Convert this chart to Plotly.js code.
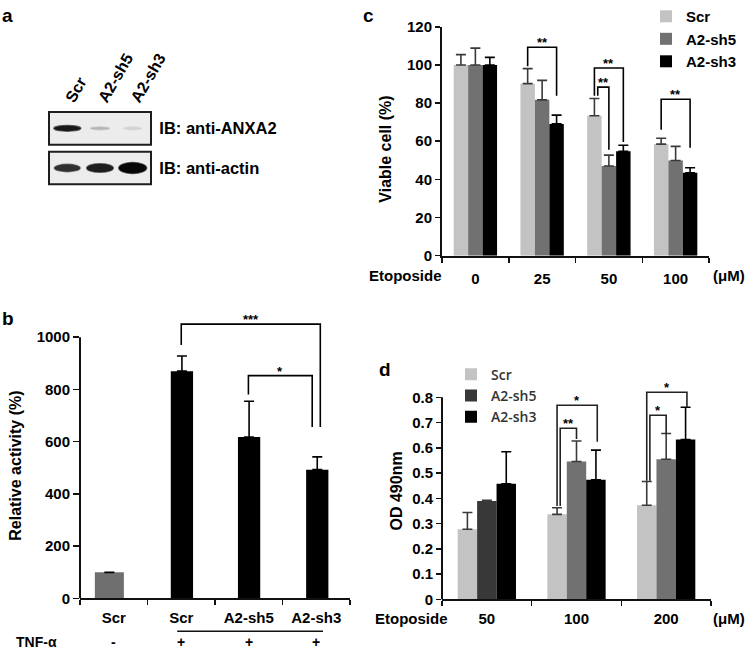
<!DOCTYPE html>
<html>
<head>
<meta charset="utf-8">
<script src="https://cdn.plot.ly/plotly-3.0.1.min.js"></script>
<style>html,body{margin:0;padding:0;background:#fff}#chart{width:748px;height:652px}</style>
</head>
<body>
<div id="chart"></div>
<script>
// ---------------- DATA ----------------
// Panel a: western blot (relative band signal, 0..1)
const blotLanes = ['Scr', 'A2-sh5', 'A2-sh3'];
const anxa2Signal = [0.92, 0.22, 0.10];
const actinSignal = [0.82, 0.90, 1.00];
const blotProbes = ['IB: anti-ANXA2', 'IB: anti-actin'];

// Panel b: relative activity (%)
const bCategories = ['Scr', 'Scr', 'A2-sh5', 'A2-sh3'];
const bTNF = ['-', '+', '+', '+'];
const bActivity = [100, 870, 618, 493];
const bSD = [0, 58, 137, 49];
const bSig = [ // [from, to, label, bracketTop, leftBottom, rightBottom]
  [1, 3, '***', 1050, 970, 656],
  [2, 3, '*', 853, 781, 656]
];

// Panel c: viable cell (%)
const series = ['Scr', 'A2-sh5', 'A2-sh3'];
const cDoses = ['0', '25', '50', '100'];
const cScr  = [100, 90.2, 73.4, 58.5];
const cSh5  = [100, 81.7, 47.0, 49.9];
const cSh3  = [100, 69.1, 54.7, 43.5];
const cScrSD = [5.4, 7.9, 9.0, 3.1];
const cSh5SD = [8.8, 10.2, 5.7, 7.4];
const cSh3SD = [4.0, 4.6, 3.2, 2.6];
const cTicks = [0, 20, 40, 60, 80, 100, 120];
const cSig = [ // [dose index, from series, to series, label, top, leftBottom, rightBottom]
  [1, 0, 2, '**', 109.3, 99.3, 83.8],
  [2, 0, 2, '**', 98.4, 83.8, 59.6],
  [2, 0, 1, '**', 88.4, 83.8, 55.5],
  [3, 0, 2, '**', 82.0, 66.0, 56.6]
];

// Panel d: OD 490nm
const dDoses = ['50', '100', '200'];
const dScr = [0.278, 0.337, 0.373];
const dSh5 = [0.390, 0.546, 0.555];
const dSh3 = [0.458, 0.474, 0.633];
const dScrSD = [0.066, 0.026, 0.094];
const dSh5SD = [0.003, 0.081, 0.102];
const dSh3SD = [0.127, 0.117, 0.128];
const dTicks = [0, 0.1, 0.2, 0.3, 0.4, 0.5, 0.6, 0.7, 0.8];
const dSig = [
  [1, 0, 1, '**', 0.678, 0.37, 0.635],
  [1, 0, 2, '*', 0.769, 0.37, 0.624],
  [2, 0, 1, '*', 0.729, 0.47, 0.655],
  [2, 0, 2, '*', 0.820, 0.47, 0.761]
];

// ---------------- STYLE ----------------
const W = 748, H = 652;
const FAM = 'Liberation Sans, Arial, sans-serif';
const bold = (s, c) => ({family: FAM, size: s, color: c || '#000', weight: 'bold'});
const px = v => v / W;
const py = v => 1 - v / H;
const colScr = '#c3c3c3', colSh5 = '#717171', colSh3 = '#000000';
const seriesColors = [colScr, colSh5, colSh3];
const errColors = ['#3a3a3a', '#3a3a3a', '#000'];
const BARGAP = 0.35;
const bw = (1 - BARGAP) / 3;
const barX = (g, s) => g + (s - 1) * bw;

const traces = [];
const shapes = [];
const annotations = [];
function note(opts) {
  annotations.push(Object.assign({showarrow: false, xanchor: 'center', yanchor: 'middle'}, opts));
}

// ---------- Panel c ----------
const cVals = [cScr, cSh5, cSh3];
const cSDs = [cScrSD, cSh5SD, cSh3SD];
series.forEach((name, k) => {
  traces.push({
    type: 'bar', name: name, x: cDoses.map((d, i) => i), y: cVals[k],
    marker: {color: seriesColors[k], line: {width: 0}},
    error_y: {type: 'data', symmetric: false, array: cSDs[k], arrayminus: cSDs[k].map(() => 0),
              color: errColors[k], thickness: 1.6, width: 5},
    xaxis: 'x', yaxis: 'y', legend: 'legend', hoverinfo: 'skip'
  });
});

// ---------- Panel d ----------
const dVals = [dScr, dSh5, dSh3];
const dSDs = [dScrSD, dSh5SD, dSh3SD];
series.forEach((name, k) => {
  let color = seriesColors[k];
  if (k === 1) color = dDoses.map((d, i) => i === 0 ? '#383838' : colSh5);
  traces.push({
    type: 'bar', name: name, x: dDoses.map((d, i) => i), y: dVals[k],
    marker: {color: color, line: {width: 0}},
    error_y: {type: 'data', symmetric: false, array: dSDs[k], arrayminus: dSDs[k].map(() => 0),
              color: errColors[k], thickness: 1.6, width: 5},
    xaxis: 'x3', yaxis: 'y3', legend: 'legend2', hoverinfo: 'skip'
  });
});

// ---------- Panel b ----------
const bWidths = [0.43, 0.33, 0.33, 0.33];
const bOffsets = [-0.28, -0.155, -0.16, -0.15];
traces.push({
  type: 'bar', x: bCategories.map((c, i) => i), y: bActivity,
  width: bWidths, offset: bOffsets,
  marker: {color: bTNF.map(t => t === '+' ? '#000' : '#6f6f6f'), line: {width: 0}},
  error_y: {type: 'data', symmetric: false, array: bSD, arrayminus: bSD.map(() => 0),
            color: '#000', thickness: 1.6, width: 5, visible: true},
  xaxis: 'x2', yaxis: 'y2', showlegend: false, hoverinfo: 'skip'
});
const bCenter = i => i + bOffsets[i] + bWidths[i] / 2;

// significance brackets as line traces
function bracket(xa, ya, x0, x1, top, yl, yr, color) {
  traces.push({
    type: 'scatter', mode: 'lines', x: [x0, x0, x1, x1], y: [yl, top, top, yr],
    line: {color: color || '#000', width: 1.6}, xaxis: xa, yaxis: ya,
    showlegend: false, hoverinfo: 'skip', cliponaxis: false
  });
}
function sigText(xa, ya, x, y, txt, size, shift) {
  note({xref: xa, yref: ya, x: x, y: y, text: txt, font: bold(size), yanchor: 'bottom', yshift: shift});
}

bSig.forEach(([a, b, lab, top, yl, yr], j) => {
  const x0 = bCenter(a) - 0.01;
  const x1 = bCenter(b) + (j === 0 ? 0.045 : -0.075);
  bracket('x2', 'y2', x0, x1, top, yl, yr);
  sigText('x2', 'y2', (x0 + x1) / 2, top, lab, 13, -5);
});
cSig.forEach(([g, s0, s1, lab, top, yl, yr], j) => {
  const x0 = barX(g, s0) + (j === 2 ? 0.05 : 0);
  const x1 = barX(g, s1);
  bracket('x', 'y', x0, x1, top, yl, yr);
  sigText('x', 'y', (x0 + x1) / 2, top, lab, 13, -5);
});
dSig.forEach(([g, s0, s1, lab, top, yl, yr], j) => {
  const x0 = barX(g, s0) + (s1 === 1 ? 0.035 : 0.0);
  const x1 = barX(g, s1) + (s1 === 2 ? 0.015 : 0);
  bracket('x3', 'y3', x0, x1, top, yl, yr, '#222');
  sigText('x3', 'y3', (x0 + x1) / 2, top, lab, 13, -5);
});

// ---------- Panel a: blot ----------
traces.push({type: 'scatter', x: [], y: [], xaxis: 'x4', yaxis: 'y4', showlegend: false});
traces.push({type: 'scatter', x: [], y: [], xaxis: 'x5', yaxis: 'y5', showlegend: false});
[['x4', 'y4', anxa2Signal, 0.2], ['x5', 'y5', actinSignal, 0.33]].forEach(([xa, ya, sig, base]) => {
  shapes.push({type: 'rect', xref: xa + ' domain', yref: ya + ' domain', x0: 0, x1: 1, y0: 0, y1: 1,
    line: {color: '#1e1e1e', width: 2}, fillcolor: '#ececec', layer: 'below'});
  sig.forEach((s, i) => {
    const g = Math.round(232 - 225 * s);
    const w = 0.5 + 0.35 * s;
    const h = Math.max(0.08, base * s * s);
    shapes.push({type: 'circle', xref: xa, yref: ya, x0: i - w / 2, x1: i + w / 2,
      y0: 0.5 - h / 2, y1: 0.5 + h / 2, fillcolor: `rgb(${g},${g},${g})`,
      line: {color: `rgba(${g},${g},${g},0.6)`, width: 1.5}});
  });
});

// ---------- axis lines drawn only to the top tick ----------
shapes.push({type: 'line', xref: 'x2 domain', yref: 'y2', x0: 0, x1: 0, y0: 0, y1: 1000, line: {color: '#111', width: 2}});
shapes.push({type: 'line', xref: 'x3 domain', yref: 'y3', x0: 0, x1: 0, y0: 0, y1: 0.8, line: {color: '#111', width: 2}});

// TNF row
const plusIdx = bTNF.map((t, i) => t === '+' ? i : -1).filter(i => i >= 0);
shapes.push({type: 'line', xref: 'x2', yref: 'paper', x0: plusIdx[0] - 0.06, x1: plusIdx[plusIdx.length - 1] + 0.1,
  y0: py(631), y1: py(631), line: {color: '#111', width: 1.5}});
bTNF.forEach((t, i) => {
  note({xref: 'x2', yref: 'paper', x: i, y: py(642), text: t, font: bold(14)});
});
note({xref: 'paper', yref: 'paper', x: px(36), y: py(642), text: 'TNF-α', font: bold(14)});

// Panel letters & axis titles
[['a', 8, 10], ['b', 8, 315], ['c', 368, 10], ['d', 385, 367]].forEach(([t, x, y]) => {
  note({xref: 'paper', yref: 'paper', x: px(x), y: py(y), text: t, font: bold(19)});
});
note({xref: 'paper', yref: 'paper', x: px(16), y: py(464), text: 'Relative activity (%)', textangle: -90, font: bold(16)});
note({xref: 'paper', yref: 'paper', x: px(386), y: py(144), text: 'Viable cell (%)', textangle: -90, font: bold(16)});
note({xref: 'paper', yref: 'paper', x: px(396), y: py(490), text: 'OD 490nm', textangle: -90, font: bold(16)});
note({xref: 'paper', yref: 'paper', x: px(405), y: py(272), text: 'Etoposide', font: bold(15)});
note({xref: 'paper', yref: 'paper', x: px(729), y: py(272), text: '(μM)', font: bold(15)});
note({xref: 'paper', yref: 'paper', x: px(411), y: py(618), text: 'Etoposide', font: bold(15)});
note({xref: 'paper', yref: 'paper', x: px(729), y: py(618), text: '(μM)', font: bold(15)});

// ---------------- LAYOUT ----------------
const catX = (n, labels, dom, anchor, standoff) => ({
  domain: dom, anchor: anchor, range: [-0.5, n - 0.5],
  tickmode: 'array', tickvals: labels.map((l, i) => i), ticktext: labels,
  ticks: '', ticklabelstandoff: standoff, tickfont: bold(15),
  showline: true, linecolor: '#111', linewidth: 2,
  showgrid: false, zeroline: false, fixedrange: true,
  minor: {tickmode: 'array', tickvals: Array.from({length: n + 1}, (v, i) => i - 0.5),
          ticks: 'outside', ticklen: 5, tickwidth: 1.5, tickcolor: '#111', showgrid: false}
});
const valY = (dom, range, ticks, anchor, line) => ({
  domain: dom, anchor: anchor, range: range, tickmode: 'array', tickvals: ticks,
  ticks: 'outside', ticklen: 5, tickwidth: 1.5, tickcolor: '#111', tickfont: bold(15),
  showline: line, linecolor: '#111', linewidth: 2, showgrid: false, zeroline: false, fixedrange: true
});

const layout = {
  width: W, height: H, margin: {l: 0, r: 0, t: 0, b: 0},
  paper_bgcolor: '#fff', plot_bgcolor: 'rgba(0,0,0,0)',
  barmode: 'group', bargap: BARGAP, bargroupgap: 0,
  showlegend: true,
  xaxis: catX(4, cDoses, [px(442), px(709)], 'y', 8),
  yaxis: valY([py(252), py(21)], [0, 120], cTicks, 'x', true),
  xaxis2: catX(4, bCategories, [px(80), px(350)], 'y2', 5),
  yaxis2: Object.assign(valY([py(598), py(313.15)], [0, 1080], [0, 200, 400, 600, 800, 1000], 'x2', false), {ticklen: 6}),
  xaxis3: catX(3, dDoses, [px(442), px(711)], 'y3', 5),
  yaxis3: valY([py(599), py(382.25)], [0, 0.85], dTicks, 'x3', false),
  xaxis4: {domain: [px(49), px(151)], anchor: 'y4', side: 'top', range: [-0.56, 2.56],
           tickmode: 'array', tickvals: blotLanes.map((l, i) => i), ticktext: blotLanes, tickangle: -60,
           ticks: '', tickfont: bold(16), showline: false, showgrid: false, zeroline: false, fixedrange: true},
  yaxis4: {domain: [py(140), py(107)], anchor: 'x4', side: 'right', range: [0, 1],
           tickmode: 'array', tickvals: [0.5], ticktext: [blotProbes[0]], ticks: 'outside', ticklen: 4,
           tickcolor: 'rgba(0,0,0,0)', tickfont: bold(16.5), showline: false, showgrid: false, zeroline: false, fixedrange: true},
  xaxis5: {domain: [px(49), px(151)], anchor: 'y5', range: [-0.56, 2.56], showticklabels: false,
           ticks: '', showline: false, showgrid: false, zeroline: false, fixedrange: true},
  yaxis5: {domain: [py(180), py(147)], anchor: 'x5', side: 'right', range: [0, 1],
           tickmode: 'array', tickvals: [0.5], ticktext: [blotProbes[1]], ticks: 'outside', ticklen: 4,
           tickcolor: 'rgba(0,0,0,0)', tickfont: bold(16.5), showline: false, showgrid: false, zeroline: false, fixedrange: true},
  legend: {x: px(646), y: py(-6), xanchor: 'left', yanchor: 'top', bgcolor: 'rgba(0,0,0,0)',
           font: bold(15), itemwidth: 30, tracegroupgap: 0},
  legend2: {x: px(451), y: py(356), xanchor: 'left', yanchor: 'top', bgcolor: 'rgba(0,0,0,0)',
            font: {family: 'Open Sans, Noto Sans, sans-serif', size: 14, color: '#333', weight: 600}, itemwidth: 30, tracegroupgap: 0},
  shapes: shapes,
  annotations: annotations
};

Plotly.newPlot('chart', traces, layout, {staticPlot: true, displayModeBar: false});
</script>
</body>
</html>
